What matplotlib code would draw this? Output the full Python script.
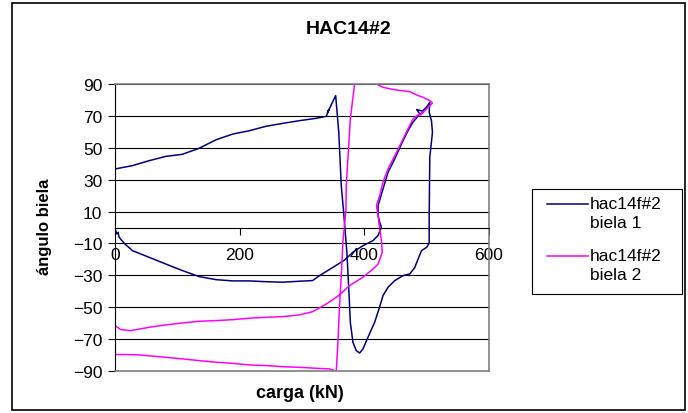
import numpy as np
import matplotlib as mpl
mpl.use('Agg')
import matplotlib.pyplot as plt
from matplotlib.patches import Rectangle
from matplotlib.lines import Line2D

mpl.rcParams['font.family'] = ['Liberation Sans', 'DejaVu Sans']

###############################################################################
# Data

title = 'HAC14#2'
x_label = 'carga (kN)'
y_label = 'ángulo biela'
x_ticks = [0, 200, 400, 600]
y_ticks = [90, 70, 50, 30, 10, -10, -30, -50, -70, -90]

label_1 = 'hac14f#2\nbiela 1'
carga_1 = [0, 3, 5, 6.4, 15, 27.9, 54.7, 81.5, 108, 135, 162, 188.7, 215.6,
           242.4, 269, 296, 317, 328, 349.6, 368, 381.7, 397.8, 414, 422,
           427.4, 424.7, 422, 422, 430, 438, 448.8, 459.6, 470, 478, 489,
           484, 493, 499.7, 505, 504, 507.7, 509.3, 505, 504, 504, 500,
           491.8, 486.3, 481, 473, 462, 448.8, 438, 430, 423.6, 416.6, 405.9,
           397.8, 392.5, 387, 381.7, 377.5, 375.3, 372, 366.5, 363, 359, 354,
           347, 341, 343, 339, 322.8, 296, 269, 242.4, 215.6, 188.7, 162,
           135, 108, 81.5, 54.7, 27.9, 0]
angulo_1 = [-1, -4, -3, -6, -10, -14.5, -18.7, -22.9, -27, -30.8, -32.7,
            -33.5, -33.5, -34, -34.3, -33.7, -33.3, -30.2, -25, -20.5, -15.5,
            -11.4, -8.2, -5, 0.1, 3.3, 7.4, 13.7, 24.2, 34.6, 43, 52.4, 60.7,
            66, 71.2, 74, 73, 75.4, 78.5, 72.3, 67, 59.7, 44, 5.3, -9.9,
            -12.4, -14.5, -19.7, -25, -29.1, -30.2, -33.3, -37.5, -42.7, -51,
            -59.4, -68.8, -76.2, -78.7, -77.2, -72, -59.4, -40.6, -15.5, 11,
            26.2, 59.7, 82.7, 77, 72, 74, 69.7, 68.5, 67, 65.3, 63.5, 60.7,
            58.6, 55, 49.7, 45.9, 44.6, 41.9, 38.8, 36.7]

label_2 = 'hac14f#2\nbiela 2'
# nan = wrap of the angle past +90
carga_2 = [0, 9, 25, 54.7, 81.5, 108, 135, 162, 188.7, 215.6, 242.4, 269, 296,
           317, 339, 360, 376, 397.8, 414, 422, 428.8, 427.4, 424.7, 422,
           419.4, 424.7, 430, 438, 448.8, 459.6, 470, 478, 484.6, 494.5, 490,
           505, 509.3, 505, 494.5, 484, 473, 451.5, 430, 419.4, 410, np.nan,
           385, 377.5, 371, 370.5, 365.6, 363, 360, 357.6, 355, 344, 322.8,
           296, 269, 242.4, 215.6, 188.7, 162, 135, 108, 81.5, 41, 28, 0]
angulo_2 = [-61.5, -64, -64.7, -62.6, -61.1, -59.9, -58.8, -58.4, -57.8,
            -56.9, -56.3, -55.9, -54.8, -52.8, -48, -42.4, -36.5, -31.2, -26,
            -22.9, -15.5, -8.2, -0.9, 7.4, 13.7, 20, 28.4, 36.7, 45, 53.4,
            61.8, 68, 70.1, 72.3, 70.5, 76.4, 78.1, 79.6, 81.6, 83.1, 85.2,
            86.2, 87.9, 90, 92, np.nan, 92, 68, 26.2, 11.6, -9.3, -30.2, -51,
            -72, -90.1, -88.7, -88.3, -87.7, -87.3, -86.6, -86.2, -85.2, -84.5,
            -83.5, -82.4, -81.4, -80, -79.7, -79.7]

###############################################################################
# Plot

W, H = 688, 414
fig = plt.figure(figsize=(W/100, H/100), dpi=100)
ax = fig.add_axes([115/W, 1-372/H, 374/W, 287/H])

l1, = ax.plot(carga_1, angulo_1, color='#000080', lw=1.1)
l2, = ax.plot(carga_2, angulo_2, color='#ff00ff', lw=1.1)

ax.set_xlim(0, 600)
ax.set_ylim(-90, 90)
ax.set_xticks(x_ticks)
ax.set_yticks(y_ticks)
ax.grid(axis='y', color='black', lw=0.8)
ax.axhline(-90, color='#808080', lw=1.2, zorder=2.6, clip_on=False)

ax.spines['bottom'].set_position(('data', 0))
ax.spines['bottom'].set_color('black')
ax.spines['left'].set_color('black')
for s in ['top', 'right']:
    ax.spines[s].set_color('#808080')
    ax.spines[s].set_linewidth(1.2)

ax.tick_params(axis='x', labelsize=12.5, length=5, pad=9, direction='out')
ax.tick_params(axis='y', labelsize=12.5, length=5, pad=4, direction='out')

fig.text(349/W, 1-30/H, title, ha='center', va='center', fontsize=14, fontweight='bold')
fig.text(300/W, 1-394/H, x_label, ha='center', va='center', fontsize=13, fontweight='bold')
fig.text(44/W, 1-227/H, y_label, ha='center', va='center', fontsize=12,
         fontweight='bold', rotation=90)

# legend box, line level with the first text line
fig.patches.append(Rectangle((532/W, 1-295/H), 150/W, 105/H, transform=fig.transFigure,
                             fill=False, edgecolor='black', lw=0.8))
for line, lab, yp in [(l1, label_1, 205), (l2, label_2, 257)]:
    fig.lines.append(Line2D([547/W, 588/W], [1-yp/H, 1-yp/H], transform=fig.transFigure,
                            color=line.get_color(), lw=1.1))
    fig.text(590/W, 1-(yp-8)/H, lab, ha='left', va='top', fontsize=12.5, linespacing=1.35)

fig.patches.append(Rectangle((12/W, 1-411/H), 673/W, 407/H, transform=fig.transFigure,
                             fill=False, edgecolor='black', lw=1.2))

fig.savefig('out.png', dpi=100)
